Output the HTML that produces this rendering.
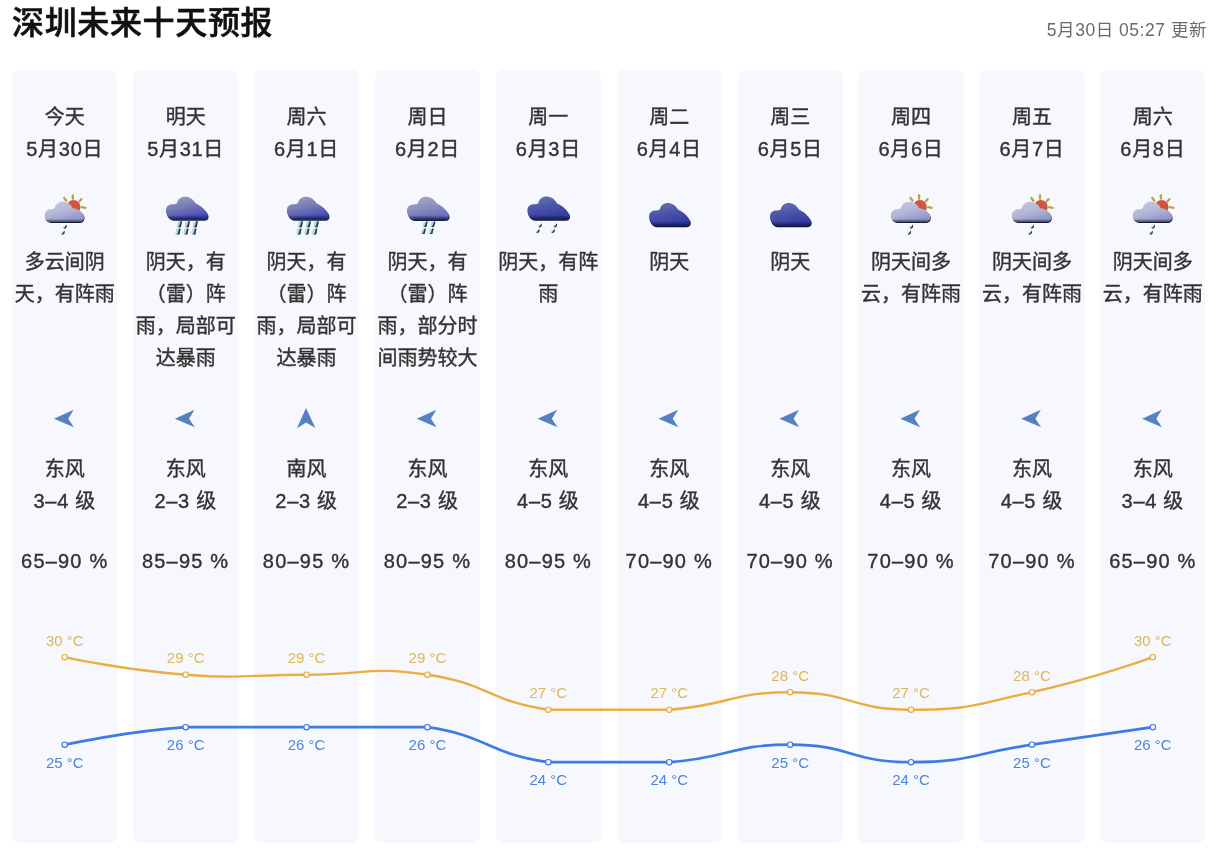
<!DOCTYPE html>
<html lang="zh-CN"><head><meta charset="utf-8"><title>深圳未来十天预报</title>
<style>
html,body{margin:0;padding:0;background:#fff;}
body{width:1221px;height:856px;position:relative;overflow:hidden;font-family:"Liberation Sans","Noto Sans CJK SC",sans-serif;color:#333;}
.title{position:absolute;left:12px;top:-1px;font-size:32px;font-weight:500;-webkit-text-stroke:0.55px #111;line-height:48px;color:#111;white-space:nowrap;letter-spacing:0.65px;}
.upd{position:absolute;right:14px;top:19px;font-size:17.5px;line-height:22px;color:#6a6a6a;white-space:nowrap;letter-spacing:0.53px;}
.col{position:absolute;top:70px;width:105.3px;height:773.2px;background:#f7f8fd;border-radius:7px;}
.t{position:absolute;left:-10px;right:-10px;text-align:center;font-size:20px;line-height:32px;white-space:nowrap;color:#333;-webkit-text-stroke:0.38px #333;}
.n{letter-spacing:0.7px;}.h{letter-spacing:1.2px;}
svg{position:absolute;left:0;top:0;}
</style></head><body>
<div class="title">深圳未来十天预报</div>
<div class="upd">5月30日 05:27 更新</div>
<div class="col" style="left:12.1px">
<div class="t" style="top:31px">今天</div>
<div class="t n" style="top:63px">5月30日</div>
<div class="t" style="top:176px">多云间阴<br>天，有阵雨</div>
<div class="t" style="top:383px">东风</div>
<div class="t n" style="top:415px">3–4 级</div>
<div class="t h" style="top:475px">65–90 %</div>
</div>
<div class="col" style="left:133px">
<div class="t" style="top:31px">明天</div>
<div class="t n" style="top:63px">5月31日</div>
<div class="t" style="top:176px">阴天，有<br>（雷）阵<br>雨，局部可<br>达暴雨</div>
<div class="t" style="top:383px">东风</div>
<div class="t n" style="top:415px">2–3 级</div>
<div class="t h" style="top:475px">85–95 %</div>
</div>
<div class="col" style="left:253.9px">
<div class="t" style="top:31px">周六</div>
<div class="t n" style="top:63px">6月1日</div>
<div class="t" style="top:176px">阴天，有<br>（雷）阵<br>雨，局部可<br>达暴雨</div>
<div class="t" style="top:383px">南风</div>
<div class="t n" style="top:415px">2–3 级</div>
<div class="t h" style="top:475px">80–95 %</div>
</div>
<div class="col" style="left:374.8px">
<div class="t" style="top:31px">周日</div>
<div class="t n" style="top:63px">6月2日</div>
<div class="t" style="top:176px">阴天，有<br>（雷）阵<br>雨，部分时<br>间雨势较大</div>
<div class="t" style="top:383px">东风</div>
<div class="t n" style="top:415px">2–3 级</div>
<div class="t h" style="top:475px">80–95 %</div>
</div>
<div class="col" style="left:495.7px">
<div class="t" style="top:31px">周一</div>
<div class="t n" style="top:63px">6月3日</div>
<div class="t" style="top:176px">阴天，有阵<br>雨</div>
<div class="t" style="top:383px">东风</div>
<div class="t n" style="top:415px">4–5 级</div>
<div class="t h" style="top:475px">80–95 %</div>
</div>
<div class="col" style="left:616.6px">
<div class="t" style="top:31px">周二</div>
<div class="t n" style="top:63px">6月4日</div>
<div class="t" style="top:176px">阴天</div>
<div class="t" style="top:383px">东风</div>
<div class="t n" style="top:415px">4–5 级</div>
<div class="t h" style="top:475px">70–90 %</div>
</div>
<div class="col" style="left:737.5px">
<div class="t" style="top:31px">周三</div>
<div class="t n" style="top:63px">6月5日</div>
<div class="t" style="top:176px">阴天</div>
<div class="t" style="top:383px">东风</div>
<div class="t n" style="top:415px">4–5 级</div>
<div class="t h" style="top:475px">70–90 %</div>
</div>
<div class="col" style="left:858.4px">
<div class="t" style="top:31px">周四</div>
<div class="t n" style="top:63px">6月6日</div>
<div class="t" style="top:176px">阴天间多<br>云，有阵雨</div>
<div class="t" style="top:383px">东风</div>
<div class="t n" style="top:415px">4–5 级</div>
<div class="t h" style="top:475px">70–90 %</div>
</div>
<div class="col" style="left:979.3px">
<div class="t" style="top:31px">周五</div>
<div class="t n" style="top:63px">6月7日</div>
<div class="t" style="top:176px">阴天间多<br>云，有阵雨</div>
<div class="t" style="top:383px">东风</div>
<div class="t n" style="top:415px">4–5 级</div>
<div class="t h" style="top:475px">70–90 %</div>
</div>
<div class="col" style="left:1100.2px">
<div class="t" style="top:31px">周六</div>
<div class="t n" style="top:63px">6月8日</div>
<div class="t" style="top:176px">阴天间多<br>云，有阵雨</div>
<div class="t" style="top:383px">东风</div>
<div class="t n" style="top:415px">3–4 级</div>
<div class="t h" style="top:475px">65–90 %</div>
</div>
<svg width="1221" height="856" viewBox="0 0 1221 856">
<defs>
<linearGradient id="gRain" x1="0" y1="0" x2="0.35" y2="1"><stop offset="0.05" stop-color="#9b9dbe"/><stop offset="0.5" stop-color="#787db5"/><stop offset="0.8" stop-color="#5a61b7"/><stop offset="1" stop-color="#4248b8"/></linearGradient>
<linearGradient id="gRainL" x1="0" y1="0" x2="0.35" y2="1"><stop offset="0.05" stop-color="#a8a9c6"/><stop offset="0.55" stop-color="#8b8fbc"/><stop offset="1" stop-color="#686ec0"/></linearGradient>
<linearGradient id="gDark" x1="0" y1="0" x2="0.35" y2="1"><stop offset="0.05" stop-color="#6a72b2"/><stop offset="0.5" stop-color="#4c56a9"/><stop offset="1" stop-color="#333ba2"/></linearGradient>
<linearGradient id="gShade" x1="0" y1="0" x2="0" y2="1"><stop offset="0.8" stop-color="#10163a" stop-opacity="0"/><stop offset="1" stop-color="#10163a" stop-opacity="0.85"/></linearGradient>
<linearGradient id="gShade2" x1="0" y1="0" x2="0" y2="1"><stop offset="0.85" stop-color="#1b1f33" stop-opacity="0"/><stop offset="1" stop-color="#1b1f33" stop-opacity="0.7"/></linearGradient>
<filter id="soft" x="-20%" y="-20%" width="140%" height="140%"><feGaussianBlur stdDeviation="0.35"/></filter>
<linearGradient id="gLight" x1="0" y1="0" x2="0.5" y2="1"><stop offset="0" stop-color="#c9cade"/><stop offset="0.6" stop-color="#b3b5d6"/><stop offset="1" stop-color="#8f96c8"/></linearGradient>
</defs>
<g filter="url(#soft)" transform="translate(64.75,180)"><g stroke="#b8a63a" stroke-width="2.3" stroke-linecap="round"><path d="M-0.55 18.0 L1.45 20.7"/><path d="M8.05 15.3 L8.05 18.8"/><path d="M16.65 19.1 L14.75 21.3"/><path d="M17.15 27.2 L20.65 27.8"/></g><circle cx="8.85" cy="27" r="6.9" fill="#d35240"/><path d="M-20.05 35.3 C-20.05 31.5 -17.25 29.2 -13.95 29.2 C-12.35 29.2 -11.15 28.8 -10.15 28.2 C-9.15 24.2 -6.15 21.7 -2.35 21.7 C2.45 21.7 6.25 24 8.25 28.2 C12.25 28.6 16.25 30.5 18.65 34.6 C20.05 38 18.85 41.6 15.45 41.9 L-14.15 41.9 C-17.75 41.9 -20.05 39 -20.05 35.3 Z" transform="translate(0.5,1.0)" fill="#1b1f33"/><path d="M-20.05 35.3 C-20.05 31.5 -17.25 29.2 -13.95 29.2 C-12.35 29.2 -11.15 28.8 -10.15 28.2 C-9.15 24.2 -6.15 21.7 -2.35 21.7 C2.45 21.7 6.25 24 8.25 28.2 C12.25 28.6 16.25 30.5 18.65 34.6 C20.05 38 18.85 41.6 15.45 41.9 L-14.15 41.9 C-17.75 41.9 -20.05 39 -20.05 35.3 Z" fill="url(#gLight)"/><path d="M-20.05 35.3 C-20.05 31.5 -17.25 29.2 -13.95 29.2 C-12.35 29.2 -11.15 28.8 -10.15 28.2 C-9.15 24.2 -6.15 21.7 -2.35 21.7 C2.45 21.7 6.25 24 8.25 28.2 C12.25 28.6 16.25 30.5 18.65 34.6 C20.05 38 18.85 41.6 15.45 41.9 L-14.15 41.9 C-17.75 41.9 -20.05 39 -20.05 35.3 Z" fill="url(#gShade2)"/><ellipse cx="-0.41" cy="47.20" rx="1.61" ry="1.44" fill="#c4e6ee"/><path d="M1.46 44.39 C2.56 45.75 2.22 47.79 0.69 48.47 C-0.16 48.81 -1.18 48.47 -1.26 47.96 C0.18 47.62 0.86 46.09 1.46 44.39 Z" fill="#26343b"/><ellipse cx="-2.52" cy="53.20" rx="1.61" ry="1.44" fill="#c4e6ee"/><path d="M-0.65 50.39 C0.46 51.75 0.12 53.79 -1.41 54.47 C-2.26 54.81 -3.28 54.47 -3.37 53.96 C-1.92 53.62 -1.24 52.09 -0.65 50.39 Z" fill="#26343b"/></g>
<path transform="translate(0.00,0)" d="M54.0 418.7 L73.6 409.7 L68.2 418.7 L73.9 427.3 Z" fill="#5581c1"/>
<g filter="url(#soft)" transform="translate(185.65,180)"><g transform="translate(0,0.3) scale(0.985,0.975)"><path d="M-19.95 31 C-19.95 27 -17.25 24.6 -13.75 24.6 C-11.75 24.6 -10.25 24.2 -8.85 23.6 C-8.25 19.5 -4.75 16.8 -0.65 16.8 C3.75 16.8 7.75 19.5 9.85 23.8 C14.25 25 19.25 29.5 22.05 34.3 C23.25 37.3 22.25 40.3 18.75 40.5 L-12.65 40.5 C-16.75 40.5 -19.95 36 -19.95 31 Z" transform="translate(0.7,1.1)" fill="#1a2042"/><path d="M-19.95 31 C-19.95 27 -17.25 24.6 -13.75 24.6 C-11.75 24.6 -10.25 24.2 -8.85 23.6 C-8.25 19.5 -4.75 16.8 -0.65 16.8 C3.75 16.8 7.75 19.5 9.85 23.8 C14.25 25 19.25 29.5 22.05 34.3 C23.25 37.3 22.25 40.3 18.75 40.5 L-12.65 40.5 C-16.75 40.5 -19.95 36 -19.95 31 Z" fill="url(#gRain)"/><path d="M-19.95 31 C-19.95 27 -17.25 24.6 -13.75 24.6 C-11.75 24.6 -10.25 24.2 -8.85 23.6 C-8.25 19.5 -4.75 16.8 -0.65 16.8 C3.75 16.8 7.75 19.5 9.85 23.8 C14.25 25 19.25 29.5 22.05 34.3 C23.25 37.3 22.25 40.3 18.75 40.5 L-12.65 40.5 C-16.75 40.5 -19.95 36 -19.95 31 Z" fill="url(#gShade)"/></g><path d="M-7.90 41.20 L-3.60 41.20 L-4.72 47.20 L-9.02 47.20 Z" fill="#b4dce6"/><path d="M-5.23 41.20 L-3.60 41.20 L-4.72 47.20 L-7.73 47.20 L-6.35 45.60 Z" fill="#2d3c45"/><path d="M-9.28 48.60 L-4.98 48.60 L-6.10 54.60 L-10.40 54.60 Z" fill="#b4dce6"/><path d="M-6.61 48.60 L-4.98 48.60 L-6.10 54.60 L-9.11 54.60 L-7.73 53.00 Z" fill="#2d3c45"/><path d="M0.02 41.20 L4.32 41.20 L3.20 47.20 L-1.10 47.20 Z" fill="#b4dce6"/><path d="M2.69 41.20 L4.32 41.20 L3.20 47.20 L0.19 47.20 L1.57 45.60 Z" fill="#2d3c45"/><path d="M-1.36 48.60 L2.94 48.60 L1.82 54.60 L-2.48 54.60 Z" fill="#b4dce6"/><path d="M1.31 48.60 L2.94 48.60 L1.82 54.60 L-1.19 54.60 L0.19 53.00 Z" fill="#2d3c45"/><path d="M7.94 41.20 L12.24 41.20 L11.12 47.20 L6.82 47.20 Z" fill="#b4dce6"/><path d="M10.61 41.20 L12.24 41.20 L11.12 47.20 L8.11 47.20 L9.49 45.60 Z" fill="#2d3c45"/><path d="M6.56 48.60 L10.86 48.60 L9.74 54.60 L5.44 54.60 Z" fill="#b4dce6"/><path d="M9.23 48.60 L10.86 48.60 L9.74 54.60 L6.73 54.60 L8.11 53.00 Z" fill="#2d3c45"/></g>
<path transform="translate(120.90,0)" d="M54.0 418.7 L73.6 409.7 L68.2 418.7 L73.9 427.3 Z" fill="#5581c1"/>
<g filter="url(#soft)" transform="translate(306.55,180)"><g transform="translate(0,0.3) scale(0.985,0.975)"><path d="M-19.95 31 C-19.95 27 -17.25 24.6 -13.75 24.6 C-11.75 24.6 -10.25 24.2 -8.85 23.6 C-8.25 19.5 -4.75 16.8 -0.65 16.8 C3.75 16.8 7.75 19.5 9.85 23.8 C14.25 25 19.25 29.5 22.05 34.3 C23.25 37.3 22.25 40.3 18.75 40.5 L-12.65 40.5 C-16.75 40.5 -19.95 36 -19.95 31 Z" transform="translate(0.7,1.1)" fill="#1a2042"/><path d="M-19.95 31 C-19.95 27 -17.25 24.6 -13.75 24.6 C-11.75 24.6 -10.25 24.2 -8.85 23.6 C-8.25 19.5 -4.75 16.8 -0.65 16.8 C3.75 16.8 7.75 19.5 9.85 23.8 C14.25 25 19.25 29.5 22.05 34.3 C23.25 37.3 22.25 40.3 18.75 40.5 L-12.65 40.5 C-16.75 40.5 -19.95 36 -19.95 31 Z" fill="url(#gRain)"/><path d="M-19.95 31 C-19.95 27 -17.25 24.6 -13.75 24.6 C-11.75 24.6 -10.25 24.2 -8.85 23.6 C-8.25 19.5 -4.75 16.8 -0.65 16.8 C3.75 16.8 7.75 19.5 9.85 23.8 C14.25 25 19.25 29.5 22.05 34.3 C23.25 37.3 22.25 40.3 18.75 40.5 L-12.65 40.5 C-16.75 40.5 -19.95 36 -19.95 31 Z" fill="url(#gShade)"/></g><path d="M-7.90 41.20 L-3.60 41.20 L-4.72 47.20 L-9.02 47.20 Z" fill="#b4dce6"/><path d="M-5.23 41.20 L-3.60 41.20 L-4.72 47.20 L-7.73 47.20 L-6.35 45.60 Z" fill="#2d3c45"/><path d="M-9.28 48.60 L-4.98 48.60 L-6.10 54.60 L-10.40 54.60 Z" fill="#b4dce6"/><path d="M-6.61 48.60 L-4.98 48.60 L-6.10 54.60 L-9.11 54.60 L-7.73 53.00 Z" fill="#2d3c45"/><path d="M0.02 41.20 L4.32 41.20 L3.20 47.20 L-1.10 47.20 Z" fill="#b4dce6"/><path d="M2.69 41.20 L4.32 41.20 L3.20 47.20 L0.19 47.20 L1.57 45.60 Z" fill="#2d3c45"/><path d="M-1.36 48.60 L2.94 48.60 L1.82 54.60 L-2.48 54.60 Z" fill="#b4dce6"/><path d="M1.31 48.60 L2.94 48.60 L1.82 54.60 L-1.19 54.60 L0.19 53.00 Z" fill="#2d3c45"/><path d="M7.94 41.20 L12.24 41.20 L11.12 47.20 L6.82 47.20 Z" fill="#b4dce6"/><path d="M10.61 41.20 L12.24 41.20 L11.12 47.20 L8.11 47.20 L9.49 45.60 Z" fill="#2d3c45"/><path d="M6.56 48.60 L10.86 48.60 L9.74 54.60 L5.44 54.60 Z" fill="#b4dce6"/><path d="M9.23 48.60 L10.86 48.60 L9.74 54.60 L6.73 54.60 L8.11 53.00 Z" fill="#2d3c45"/></g>
<path transform="translate(-0.20,0)" d="M306.2 408.1 L297.2 428.2 L306.3 422.6 L315.6 427.9 Z" fill="#5581c1"/>
<g filter="url(#soft)" transform="translate(427.45,180)"><g transform="translate(-0.8,0.4) scale(0.985,0.975)"><path d="M-19.95 31 C-19.95 27 -17.25 24.6 -13.75 24.6 C-11.75 24.6 -10.25 24.2 -8.85 23.6 C-8.25 19.5 -4.75 16.8 -0.65 16.8 C3.75 16.8 7.75 19.5 9.85 23.8 C14.25 25 19.25 29.5 22.05 34.3 C23.25 37.3 22.25 40.3 18.75 40.5 L-12.65 40.5 C-16.75 40.5 -19.95 36 -19.95 31 Z" transform="translate(0.7,1.1)" fill="#1a2042"/><path d="M-19.95 31 C-19.95 27 -17.25 24.6 -13.75 24.6 C-11.75 24.6 -10.25 24.2 -8.85 23.6 C-8.25 19.5 -4.75 16.8 -0.65 16.8 C3.75 16.8 7.75 19.5 9.85 23.8 C14.25 25 19.25 29.5 22.05 34.3 C23.25 37.3 22.25 40.3 18.75 40.5 L-12.65 40.5 C-16.75 40.5 -19.95 36 -19.95 31 Z" fill="url(#gRainL)"/><path d="M-19.95 31 C-19.95 27 -17.25 24.6 -13.75 24.6 C-11.75 24.6 -10.25 24.2 -8.85 23.6 C-8.25 19.5 -4.75 16.8 -0.65 16.8 C3.75 16.8 7.75 19.5 9.85 23.8 C14.25 25 19.25 29.5 22.05 34.3 C23.25 37.3 22.25 40.3 18.75 40.5 L-12.65 40.5 C-16.75 40.5 -19.95 36 -19.95 31 Z" fill="url(#gShade)"/></g><path d="M-3.60 41.40 L0.30 41.40 L-1.08 47.00 L-4.98 47.00 Z" fill="#b4dce6"/><path d="M-1.18 41.40 L0.30 41.40 L-1.08 47.00 L-3.81 47.00 L-2.56 45.40 Z" fill="#2d3c45"/><path d="M-5.32 48.40 L-1.42 48.40 L-2.80 54.00 L-6.70 54.00 Z" fill="#b4dce6"/><path d="M-2.90 48.40 L-1.42 48.40 L-2.80 54.00 L-5.53 54.00 L-4.28 52.40 Z" fill="#2d3c45"/><path d="M4.10 41.40 L8.00 41.40 L6.62 47.00 L2.72 47.00 Z" fill="#b4dce6"/><path d="M6.52 41.40 L8.00 41.40 L6.62 47.00 L3.89 47.00 L5.14 45.40 Z" fill="#2d3c45"/><path d="M2.38 48.40 L6.28 48.40 L4.90 54.00 L1.00 54.00 Z" fill="#b4dce6"/><path d="M4.80 48.40 L6.28 48.40 L4.90 54.00 L2.17 54.00 L3.42 52.40 Z" fill="#2d3c45"/></g>
<path transform="translate(362.70,0)" d="M54.0 418.7 L73.6 409.7 L68.2 418.7 L73.9 427.3 Z" fill="#5581c1"/>
<g filter="url(#soft)" transform="translate(548.35,180)"><g transform="translate(-1.3,0.19999999999999998) scale(0.985,0.975)"><path d="M-19.95 31 C-19.95 27 -17.25 24.6 -13.75 24.6 C-11.75 24.6 -10.25 24.2 -8.85 23.6 C-8.25 19.5 -4.75 16.8 -0.65 16.8 C3.75 16.8 7.75 19.5 9.85 23.8 C14.25 25 19.25 29.5 22.05 34.3 C23.25 37.3 22.25 40.3 18.75 40.5 L-12.65 40.5 C-16.75 40.5 -19.95 36 -19.95 31 Z" transform="translate(0.7,1.1)" fill="#10163a"/><path d="M-19.95 31 C-19.95 27 -17.25 24.6 -13.75 24.6 C-11.75 24.6 -10.25 24.2 -8.85 23.6 C-8.25 19.5 -4.75 16.8 -0.65 16.8 C3.75 16.8 7.75 19.5 9.85 23.8 C14.25 25 19.25 29.5 22.05 34.3 C23.25 37.3 22.25 40.3 18.75 40.5 L-12.65 40.5 C-16.75 40.5 -19.95 36 -19.95 31 Z" fill="url(#gDark)"/><path d="M-19.95 31 C-19.95 27 -17.25 24.6 -13.75 24.6 C-11.75 24.6 -10.25 24.2 -8.85 23.6 C-8.25 19.5 -4.75 16.8 -0.65 16.8 C3.75 16.8 7.75 19.5 9.85 23.8 C14.25 25 19.25 29.5 22.05 34.3 C23.25 37.3 22.25 40.3 18.75 40.5 L-12.65 40.5 C-16.75 40.5 -19.95 36 -19.95 31 Z" fill="url(#gShade)"/></g><ellipse cx="-8.96" cy="45.99" rx="1.61" ry="1.44" fill="#c4e6ee"/><path d="M-7.09 43.19 C-5.99 44.55 -6.33 46.59 -7.86 47.27 C-8.71 47.61 -9.73 47.27 -9.81 46.76 C-8.37 46.42 -7.69 44.89 -7.09 43.19 Z" fill="#26343b"/><ellipse cx="-11.27" cy="51.49" rx="1.61" ry="1.44" fill="#c4e6ee"/><path d="M-9.39 48.69 C-8.29 50.05 -8.63 52.09 -10.16 52.77 C-11.01 53.11 -12.03 52.77 -12.12 52.26 C-10.67 51.92 -9.99 50.39 -9.39 48.69 Z" fill="#26343b"/><ellipse cx="6.24" cy="45.99" rx="1.61" ry="1.44" fill="#c4e6ee"/><path d="M8.11 43.19 C9.21 44.55 8.87 46.59 7.34 47.27 C6.49 47.61 5.47 47.27 5.38 46.76 C6.83 46.42 7.51 44.89 8.11 43.19 Z" fill="#26343b"/><ellipse cx="3.94" cy="51.49" rx="1.61" ry="1.44" fill="#c4e6ee"/><path d="M5.80 48.69 C6.91 50.05 6.57 52.09 5.04 52.77 C4.19 53.11 3.17 52.77 3.08 52.26 C4.53 51.92 5.21 50.39 5.80 48.69 Z" fill="#26343b"/></g>
<path transform="translate(483.60,0)" d="M54.0 418.7 L73.6 409.7 L68.2 418.7 L73.9 427.3 Z" fill="#5581c1"/>
<g filter="url(#soft)" transform="translate(669.25,180)"><g transform="translate(-0.9,6.6) scale(0.965,0.975)"><path d="M-19.95 31 C-19.95 27 -17.25 24.6 -13.75 24.6 C-11.75 24.6 -10.25 24.2 -8.85 23.6 C-8.25 19.5 -4.75 16.8 -0.65 16.8 C3.75 16.8 7.75 19.5 9.85 23.8 C14.25 25 19.25 29.5 22.05 34.3 C23.25 37.3 22.25 40.3 18.75 40.5 L-12.65 40.5 C-16.75 40.5 -19.95 36 -19.95 31 Z" transform="translate(0.7,1.1)" fill="#10163a"/><path d="M-19.95 31 C-19.95 27 -17.25 24.6 -13.75 24.6 C-11.75 24.6 -10.25 24.2 -8.85 23.6 C-8.25 19.5 -4.75 16.8 -0.65 16.8 C3.75 16.8 7.75 19.5 9.85 23.8 C14.25 25 19.25 29.5 22.05 34.3 C23.25 37.3 22.25 40.3 18.75 40.5 L-12.65 40.5 C-16.75 40.5 -19.95 36 -19.95 31 Z" fill="url(#gDark)"/><path d="M-19.95 31 C-19.95 27 -17.25 24.6 -13.75 24.6 C-11.75 24.6 -10.25 24.2 -8.85 23.6 C-8.25 19.5 -4.75 16.8 -0.65 16.8 C3.75 16.8 7.75 19.5 9.85 23.8 C14.25 25 19.25 29.5 22.05 34.3 C23.25 37.3 22.25 40.3 18.75 40.5 L-12.65 40.5 C-16.75 40.5 -19.95 36 -19.95 31 Z" fill="url(#gShade)"/></g></g>
<path transform="translate(604.50,0)" d="M54.0 418.7 L73.6 409.7 L68.2 418.7 L73.9 427.3 Z" fill="#5581c1"/>
<g filter="url(#soft)" transform="translate(790.15,180)"><g transform="translate(-0.9,6.6) scale(0.965,0.975)"><path d="M-19.95 31 C-19.95 27 -17.25 24.6 -13.75 24.6 C-11.75 24.6 -10.25 24.2 -8.85 23.6 C-8.25 19.5 -4.75 16.8 -0.65 16.8 C3.75 16.8 7.75 19.5 9.85 23.8 C14.25 25 19.25 29.5 22.05 34.3 C23.25 37.3 22.25 40.3 18.75 40.5 L-12.65 40.5 C-16.75 40.5 -19.95 36 -19.95 31 Z" transform="translate(0.7,1.1)" fill="#10163a"/><path d="M-19.95 31 C-19.95 27 -17.25 24.6 -13.75 24.6 C-11.75 24.6 -10.25 24.2 -8.85 23.6 C-8.25 19.5 -4.75 16.8 -0.65 16.8 C3.75 16.8 7.75 19.5 9.85 23.8 C14.25 25 19.25 29.5 22.05 34.3 C23.25 37.3 22.25 40.3 18.75 40.5 L-12.65 40.5 C-16.75 40.5 -19.95 36 -19.95 31 Z" fill="url(#gDark)"/><path d="M-19.95 31 C-19.95 27 -17.25 24.6 -13.75 24.6 C-11.75 24.6 -10.25 24.2 -8.85 23.6 C-8.25 19.5 -4.75 16.8 -0.65 16.8 C3.75 16.8 7.75 19.5 9.85 23.8 C14.25 25 19.25 29.5 22.05 34.3 C23.25 37.3 22.25 40.3 18.75 40.5 L-12.65 40.5 C-16.75 40.5 -19.95 36 -19.95 31 Z" fill="url(#gShade)"/></g></g>
<path transform="translate(725.40,0)" d="M54.0 418.7 L73.6 409.7 L68.2 418.7 L73.9 427.3 Z" fill="#5581c1"/>
<g filter="url(#soft)" transform="translate(911.05,180)"><g stroke="#b8a63a" stroke-width="2.3" stroke-linecap="round"><path d="M-0.55 18.0 L1.45 20.7"/><path d="M8.05 15.3 L8.05 18.8"/><path d="M16.65 19.1 L14.75 21.3"/><path d="M17.15 27.2 L20.65 27.8"/></g><circle cx="8.85" cy="27" r="6.9" fill="#d35240"/><path d="M-20.05 35.3 C-20.05 31.5 -17.25 29.2 -13.95 29.2 C-12.35 29.2 -11.15 28.8 -10.15 28.2 C-9.15 24.2 -6.15 21.7 -2.35 21.7 C2.45 21.7 6.25 24 8.25 28.2 C12.25 28.6 16.25 30.5 18.65 34.6 C20.05 38 18.85 41.6 15.45 41.9 L-14.15 41.9 C-17.75 41.9 -20.05 39 -20.05 35.3 Z" transform="translate(0.5,1.0)" fill="#1b1f33"/><path d="M-20.05 35.3 C-20.05 31.5 -17.25 29.2 -13.95 29.2 C-12.35 29.2 -11.15 28.8 -10.15 28.2 C-9.15 24.2 -6.15 21.7 -2.35 21.7 C2.45 21.7 6.25 24 8.25 28.2 C12.25 28.6 16.25 30.5 18.65 34.6 C20.05 38 18.85 41.6 15.45 41.9 L-14.15 41.9 C-17.75 41.9 -20.05 39 -20.05 35.3 Z" fill="url(#gLight)"/><path d="M-20.05 35.3 C-20.05 31.5 -17.25 29.2 -13.95 29.2 C-12.35 29.2 -11.15 28.8 -10.15 28.2 C-9.15 24.2 -6.15 21.7 -2.35 21.7 C2.45 21.7 6.25 24 8.25 28.2 C12.25 28.6 16.25 30.5 18.65 34.6 C20.05 38 18.85 41.6 15.45 41.9 L-14.15 41.9 C-17.75 41.9 -20.05 39 -20.05 35.3 Z" fill="url(#gShade2)"/><ellipse cx="-0.41" cy="47.20" rx="1.61" ry="1.44" fill="#c4e6ee"/><path d="M1.46 44.39 C2.56 45.75 2.22 47.79 0.69 48.47 C-0.16 48.81 -1.18 48.47 -1.26 47.96 C0.18 47.62 0.86 46.09 1.46 44.39 Z" fill="#26343b"/><ellipse cx="-2.52" cy="53.20" rx="1.61" ry="1.44" fill="#c4e6ee"/><path d="M-0.65 50.39 C0.46 51.75 0.12 53.79 -1.41 54.47 C-2.26 54.81 -3.28 54.47 -3.37 53.96 C-1.92 53.62 -1.24 52.09 -0.65 50.39 Z" fill="#26343b"/></g>
<path transform="translate(846.30,0)" d="M54.0 418.7 L73.6 409.7 L68.2 418.7 L73.9 427.3 Z" fill="#5581c1"/>
<g filter="url(#soft)" transform="translate(1031.95,180)"><g stroke="#b8a63a" stroke-width="2.3" stroke-linecap="round"><path d="M-0.55 18.0 L1.45 20.7"/><path d="M8.05 15.3 L8.05 18.8"/><path d="M16.65 19.1 L14.75 21.3"/><path d="M17.15 27.2 L20.65 27.8"/></g><circle cx="8.85" cy="27" r="6.9" fill="#d35240"/><path d="M-20.05 35.3 C-20.05 31.5 -17.25 29.2 -13.95 29.2 C-12.35 29.2 -11.15 28.8 -10.15 28.2 C-9.15 24.2 -6.15 21.7 -2.35 21.7 C2.45 21.7 6.25 24 8.25 28.2 C12.25 28.6 16.25 30.5 18.65 34.6 C20.05 38 18.85 41.6 15.45 41.9 L-14.15 41.9 C-17.75 41.9 -20.05 39 -20.05 35.3 Z" transform="translate(0.5,1.0)" fill="#1b1f33"/><path d="M-20.05 35.3 C-20.05 31.5 -17.25 29.2 -13.95 29.2 C-12.35 29.2 -11.15 28.8 -10.15 28.2 C-9.15 24.2 -6.15 21.7 -2.35 21.7 C2.45 21.7 6.25 24 8.25 28.2 C12.25 28.6 16.25 30.5 18.65 34.6 C20.05 38 18.85 41.6 15.45 41.9 L-14.15 41.9 C-17.75 41.9 -20.05 39 -20.05 35.3 Z" fill="url(#gLight)"/><path d="M-20.05 35.3 C-20.05 31.5 -17.25 29.2 -13.95 29.2 C-12.35 29.2 -11.15 28.8 -10.15 28.2 C-9.15 24.2 -6.15 21.7 -2.35 21.7 C2.45 21.7 6.25 24 8.25 28.2 C12.25 28.6 16.25 30.5 18.65 34.6 C20.05 38 18.85 41.6 15.45 41.9 L-14.15 41.9 C-17.75 41.9 -20.05 39 -20.05 35.3 Z" fill="url(#gShade2)"/><ellipse cx="-0.41" cy="47.20" rx="1.61" ry="1.44" fill="#c4e6ee"/><path d="M1.46 44.39 C2.56 45.75 2.22 47.79 0.69 48.47 C-0.16 48.81 -1.18 48.47 -1.26 47.96 C0.18 47.62 0.86 46.09 1.46 44.39 Z" fill="#26343b"/><ellipse cx="-2.52" cy="53.20" rx="1.61" ry="1.44" fill="#c4e6ee"/><path d="M-0.65 50.39 C0.46 51.75 0.12 53.79 -1.41 54.47 C-2.26 54.81 -3.28 54.47 -3.37 53.96 C-1.92 53.62 -1.24 52.09 -0.65 50.39 Z" fill="#26343b"/></g>
<path transform="translate(967.20,0)" d="M54.0 418.7 L73.6 409.7 L68.2 418.7 L73.9 427.3 Z" fill="#5581c1"/>
<g filter="url(#soft)" transform="translate(1152.85,180)"><g stroke="#b8a63a" stroke-width="2.3" stroke-linecap="round"><path d="M-0.55 18.0 L1.45 20.7"/><path d="M8.05 15.3 L8.05 18.8"/><path d="M16.65 19.1 L14.75 21.3"/><path d="M17.15 27.2 L20.65 27.8"/></g><circle cx="8.85" cy="27" r="6.9" fill="#d35240"/><path d="M-20.05 35.3 C-20.05 31.5 -17.25 29.2 -13.95 29.2 C-12.35 29.2 -11.15 28.8 -10.15 28.2 C-9.15 24.2 -6.15 21.7 -2.35 21.7 C2.45 21.7 6.25 24 8.25 28.2 C12.25 28.6 16.25 30.5 18.65 34.6 C20.05 38 18.85 41.6 15.45 41.9 L-14.15 41.9 C-17.75 41.9 -20.05 39 -20.05 35.3 Z" transform="translate(0.5,1.0)" fill="#1b1f33"/><path d="M-20.05 35.3 C-20.05 31.5 -17.25 29.2 -13.95 29.2 C-12.35 29.2 -11.15 28.8 -10.15 28.2 C-9.15 24.2 -6.15 21.7 -2.35 21.7 C2.45 21.7 6.25 24 8.25 28.2 C12.25 28.6 16.25 30.5 18.65 34.6 C20.05 38 18.85 41.6 15.45 41.9 L-14.15 41.9 C-17.75 41.9 -20.05 39 -20.05 35.3 Z" fill="url(#gLight)"/><path d="M-20.05 35.3 C-20.05 31.5 -17.25 29.2 -13.95 29.2 C-12.35 29.2 -11.15 28.8 -10.15 28.2 C-9.15 24.2 -6.15 21.7 -2.35 21.7 C2.45 21.7 6.25 24 8.25 28.2 C12.25 28.6 16.25 30.5 18.65 34.6 C20.05 38 18.85 41.6 15.45 41.9 L-14.15 41.9 C-17.75 41.9 -20.05 39 -20.05 35.3 Z" fill="url(#gShade2)"/><ellipse cx="-0.41" cy="47.20" rx="1.61" ry="1.44" fill="#c4e6ee"/><path d="M1.46 44.39 C2.56 45.75 2.22 47.79 0.69 48.47 C-0.16 48.81 -1.18 48.47 -1.26 47.96 C0.18 47.62 0.86 46.09 1.46 44.39 Z" fill="#26343b"/><ellipse cx="-2.52" cy="53.20" rx="1.61" ry="1.44" fill="#c4e6ee"/><path d="M-0.65 50.39 C0.46 51.75 0.12 53.79 -1.41 54.47 C-2.26 54.81 -3.28 54.47 -3.37 53.96 C-1.92 53.62 -1.24 52.09 -0.65 50.39 Z" fill="#26343b"/></g>
<path transform="translate(1088.10,0)" d="M54.0 418.7 L73.6 409.7 L68.2 418.7 L73.9 427.3 Z" fill="#5581c1"/>
<path d="M64.75 657.20 C64.75 657.20 124.89 670.30 185.65 674.70 C245.79 679.05 246.10 674.70 306.55 674.70 C367.00 674.70 368.22 666.13 427.45 674.70 C489.12 683.63 486.68 700.77 548.35 709.70 C607.58 709.70 609.11 709.70 669.25 709.70 C730.01 705.30 729.70 692.20 790.15 692.20 C850.60 692.20 850.60 709.70 911.05 709.70 C971.50 709.70 972.40 705.13 1031.95 692.20 C1093.30 678.88 1152.85 657.20 1152.85 657.20" fill="none" stroke="#ebad42" stroke-width="2.4"/>
<path d="M64.75 744.70 C64.75 744.70 124.89 731.60 185.65 727.20 C245.79 727.20 246.10 727.20 306.55 727.20 C367.00 727.20 368.22 727.20 427.45 727.20 C489.12 736.13 486.68 753.27 548.35 762.20 C607.58 762.20 609.11 762.20 669.25 762.20 C730.01 757.80 729.70 744.70 790.15 744.70 C850.60 744.70 850.60 762.20 911.05 762.20 C971.50 762.20 971.50 753.45 1031.95 744.70 C1092.40 735.95 1152.85 727.20 1152.85 727.20" fill="none" stroke="#3d7be6" stroke-width="2.7"/>
<circle cx="64.75" cy="657.20" r="2.7" fill="#fbf9f3" stroke="#ebaa3e" stroke-width="1.2"/>
<text x="64.75" y="645.70" text-anchor="middle" font-family="Liberation Sans, sans-serif" font-size="15" fill="#dfb657">30 °C</text>
<circle cx="185.65" cy="674.70" r="2.7" fill="#fbf9f3" stroke="#ebaa3e" stroke-width="1.2"/>
<text x="185.65" y="663.20" text-anchor="middle" font-family="Liberation Sans, sans-serif" font-size="15" fill="#dfb657">29 °C</text>
<circle cx="306.55" cy="674.70" r="2.7" fill="#fbf9f3" stroke="#ebaa3e" stroke-width="1.2"/>
<text x="306.55" y="663.20" text-anchor="middle" font-family="Liberation Sans, sans-serif" font-size="15" fill="#dfb657">29 °C</text>
<circle cx="427.45" cy="674.70" r="2.7" fill="#fbf9f3" stroke="#ebaa3e" stroke-width="1.2"/>
<text x="427.45" y="663.20" text-anchor="middle" font-family="Liberation Sans, sans-serif" font-size="15" fill="#dfb657">29 °C</text>
<circle cx="548.35" cy="709.70" r="2.7" fill="#fbf9f3" stroke="#ebaa3e" stroke-width="1.2"/>
<text x="548.35" y="698.20" text-anchor="middle" font-family="Liberation Sans, sans-serif" font-size="15" fill="#dfb657">27 °C</text>
<circle cx="669.25" cy="709.70" r="2.7" fill="#fbf9f3" stroke="#ebaa3e" stroke-width="1.2"/>
<text x="669.25" y="698.20" text-anchor="middle" font-family="Liberation Sans, sans-serif" font-size="15" fill="#dfb657">27 °C</text>
<circle cx="790.15" cy="692.20" r="2.7" fill="#fbf9f3" stroke="#ebaa3e" stroke-width="1.2"/>
<text x="790.15" y="680.70" text-anchor="middle" font-family="Liberation Sans, sans-serif" font-size="15" fill="#dfb657">28 °C</text>
<circle cx="911.05" cy="709.70" r="2.7" fill="#fbf9f3" stroke="#ebaa3e" stroke-width="1.2"/>
<text x="911.05" y="698.20" text-anchor="middle" font-family="Liberation Sans, sans-serif" font-size="15" fill="#dfb657">27 °C</text>
<circle cx="1031.95" cy="692.20" r="2.7" fill="#fbf9f3" stroke="#ebaa3e" stroke-width="1.2"/>
<text x="1031.95" y="680.70" text-anchor="middle" font-family="Liberation Sans, sans-serif" font-size="15" fill="#dfb657">28 °C</text>
<circle cx="1152.85" cy="657.20" r="2.7" fill="#fbf9f3" stroke="#ebaa3e" stroke-width="1.2"/>
<text x="1152.85" y="645.70" text-anchor="middle" font-family="Liberation Sans, sans-serif" font-size="15" fill="#dfb657">30 °C</text>
<circle cx="64.75" cy="744.70" r="2.7" fill="#fbf9f3" stroke="#3d7be6" stroke-width="1.2"/>
<text x="64.75" y="767.50" text-anchor="middle" font-family="Liberation Sans, sans-serif" font-size="15" fill="#4f84de">25 °C</text>
<circle cx="185.65" cy="727.20" r="2.7" fill="#fbf9f3" stroke="#3d7be6" stroke-width="1.2"/>
<text x="185.65" y="750.00" text-anchor="middle" font-family="Liberation Sans, sans-serif" font-size="15" fill="#4f84de">26 °C</text>
<circle cx="306.55" cy="727.20" r="2.7" fill="#fbf9f3" stroke="#3d7be6" stroke-width="1.2"/>
<text x="306.55" y="750.00" text-anchor="middle" font-family="Liberation Sans, sans-serif" font-size="15" fill="#4f84de">26 °C</text>
<circle cx="427.45" cy="727.20" r="2.7" fill="#fbf9f3" stroke="#3d7be6" stroke-width="1.2"/>
<text x="427.45" y="750.00" text-anchor="middle" font-family="Liberation Sans, sans-serif" font-size="15" fill="#4f84de">26 °C</text>
<circle cx="548.35" cy="762.20" r="2.7" fill="#fbf9f3" stroke="#3d7be6" stroke-width="1.2"/>
<text x="548.35" y="785.00" text-anchor="middle" font-family="Liberation Sans, sans-serif" font-size="15" fill="#4f84de">24 °C</text>
<circle cx="669.25" cy="762.20" r="2.7" fill="#fbf9f3" stroke="#3d7be6" stroke-width="1.2"/>
<text x="669.25" y="785.00" text-anchor="middle" font-family="Liberation Sans, sans-serif" font-size="15" fill="#4f84de">24 °C</text>
<circle cx="790.15" cy="744.70" r="2.7" fill="#fbf9f3" stroke="#3d7be6" stroke-width="1.2"/>
<text x="790.15" y="767.50" text-anchor="middle" font-family="Liberation Sans, sans-serif" font-size="15" fill="#4f84de">25 °C</text>
<circle cx="911.05" cy="762.20" r="2.7" fill="#fbf9f3" stroke="#3d7be6" stroke-width="1.2"/>
<text x="911.05" y="785.00" text-anchor="middle" font-family="Liberation Sans, sans-serif" font-size="15" fill="#4f84de">24 °C</text>
<circle cx="1031.95" cy="744.70" r="2.7" fill="#fbf9f3" stroke="#3d7be6" stroke-width="1.2"/>
<text x="1031.95" y="767.50" text-anchor="middle" font-family="Liberation Sans, sans-serif" font-size="15" fill="#4f84de">25 °C</text>
<circle cx="1152.85" cy="727.20" r="2.7" fill="#fbf9f3" stroke="#3d7be6" stroke-width="1.2"/>
<text x="1152.85" y="750.00" text-anchor="middle" font-family="Liberation Sans, sans-serif" font-size="15" fill="#4f84de">26 °C</text>
</svg></body></html>
